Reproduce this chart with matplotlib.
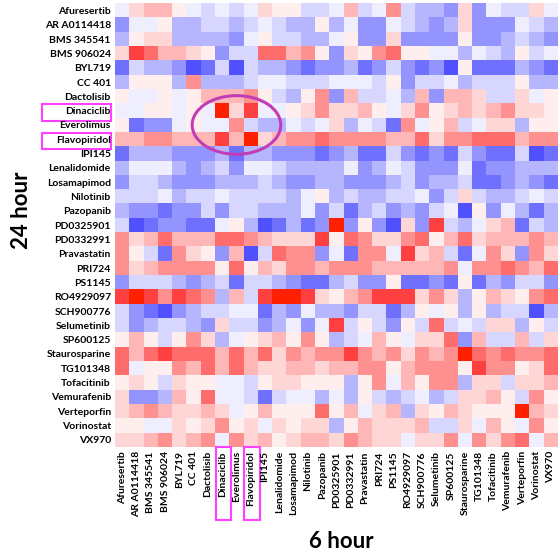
import matplotlib
matplotlib.use('Agg')
import matplotlib.pyplot as plt
import numpy as np
from matplotlib.colors import ListedColormap, BoundaryNorm
from matplotlib.patches import Rectangle, Ellipse
import matplotlib.transforms as mtrans

drugs = ["Afuresertib", "AR A0114418", "BMS 345541", "BMS 906024", "BYL719", "CC 401",
         "Dactolisib", "Dinaciclib", "Everolimus", "Flavopiridol", "IPI145", "Lenalidomide",
         "Losamapimod", "Nilotinib", "Pazopanib", "PD0325901", "PD0332991", "Pravastatin",
         "PRI724", "PS1145", "RO4929097", "SCH900776", "Selumetinib", "SP600125",
         "Staurosparine", "TG101348", "Tofacitinib", "Vemurafenib", "Verteporfin",
         "Vorinostat", "VX970"]
row_labels = drugs          # 24 hour
col_labels = drugs          # 6 hour
highlight = ["Dinaciclib", "Flavopiridol"]

# correlation level per cell (-7 strongly blue ... +7 strongly red)
levels = [
    [-1, 2, 3, 3, 1, -1, -2, -1, -2, -1, 2, 1, 1, -2, -2, -1, 3, -2, -1, 4, -2, -3, -3, -4, 2, -4, -1, -2, -2, 2, -1],
    [-4, -1, -1, 1, -3, -3, -2, -2, -3, -2, -1, -2, -3, -3, 1, -3, -1, -4, -4, -1, -2, -3, -4, -3, 2, -4, -4, -4, -1, -2, -3],
    [-3, 1, 2, 2, -3, -3, -3, -3, -4, -1, 1, -2, -2, -3, -3, -1, 1, -4, -4, 2, -4, -4, -4, -4, 1, -4, -4, -3, -2, -3, -4],
    [2, 6, 5, 3, 3, 2, 1, -4, -2, -2, 5, 5, 3, 4, 1, -4, 2, 1, 4, 5, 1, 1, -1, -1, -3, -1, -2, -3, 1, -2, -1],
    [-5, -2, -3, -3, -4, -6, -5, -2, -6, -2, -3, -3, -4, -5, -4, -4, -3, -5, -4, -2, -4, -5, -4, -6, 1, -5, -5, -5, -3, -4, -5],
    [-3, 1, 1, 1, -3, 4, -3, -3, -3, -2, -1, -1, -2, -2, -2, -1, -1, -1, -2, 1, -4, -2, -2, -1, -3, -2, -2, -2, 1, -3, -3],
    [1, -1, -1, 1, -1, 1, 3, 3, 3, 4, 1, -2, -3, 1, 4, -4, 3, -2, -2, -1, -3, 3, -4, 3, 3, 2, -2, -2, 2, -1, 1],
    [-1, -1, 1, 1, -1, 1, -1, 7, 2, 6, -1, -1, 1, 2, 4, 2, 2, 3, 1, -1, 2, 4, 1, 2, 3, 2, 3, 4, 2, 2, 1],
    [1, -5, -4, -4, -1, 1, -1, -1, 4, -2, -3, -3, -1, -2, -1, 2, -3, -1, -2, -5, 4, -1, 1, 3, -2, -1, 2, 2, -3, 1, 1],
    [3, 3, 4, 4, 3, 3, 3, 6, 3, 7, 2, 3, 4, 4, 5, 4, 4, 4, 4, 3, 3, 5, 2, 4, 4, 5, 5, 5, 3, 4, 4],
    [-5, -3, -3, -3, -4, -4, -4, -3, -5, -3, -3, -4, -4, -4, -5, -4, -3, -5, -5, -2, -4, -5, -4, -5, -2, -4, -5, -5, -2, -6, -5],
    [-3, -1, -1, -1, -3, -4, -3, -2, -4, -1, -1, -2, -3, -3, -3, -3, -1, -4, -3, -1, -2, -4, -4, -4, -1, -5, -4, -4, -3, -3, -3],
    [-4, -2, -2, -3, -4, -4, -4, -3, -3, -3, -2, -3, -4, -4, -3, -3, -4, -4, -4, -3, -2, -4, -3, -3, -2, -5, -5, -4, -3, -4, -5],
    [-2, -2, -2, -1, -3, -2, -2, -1, -2, -2, -2, -2, -3, -1, 1, -3, -2, -3, -3, -2, -2, -1, -4, -2, 2, -2, -3, -3, -2, -1, -2],
    [-3, -4, -4, -5, -4, -4, -2, -4, -2, -2, -3, -3, -3, -1, -4, -2, -5, -3, -2, -4, -3, -4, -2, -1, -6, 1, -4, -1, -3, -5, -3],
    [-2, -6, -5, -4, -4, -5, -5, -1, 1, -3, -6, -5, -3, -5, -4, 7, -4, 1, -4, -6, 2, -4, 6, -2, -3, -1, 2, 3, -5, -2, -3],
    [4, 2, 3, 5, 3, 3, 3, 5, 5, 4, 3, 2, 2, 2, 6, 1, 5, 4, 2, 2, 4, 5, 1, 3, 5, 2, 3, 3, 3, 4, 3],
    [4, 1, -2, -5, 4, 2, 1, -4, 3, -6, -2, 5, 4, 4, -4, -1, -5, 4, 4, -1, 6, 2, 3, -2, -5, -1, 4, 2, -4, 4, 2],
    [4, 2, 3, 4, 4, 4, 4, 1, 5, 1, 3, 2, 4, 4, 3, 4, 4, 4, 3, 3, 3, 3, 3, 4, -1, 4, 4, 5, 4, 3, 5],
    [-4, -2, -2, -2, -3, -4, -3, -2, -5, -2, -2, -3, -4, -5, -5, -3, -2, -4, -4, 1, -5, -5, -4, -5, 1, -5, -3, -4, -2, -2, -4],
    [6, 7, 6, 4, 6, 5, 4, -3, 3, -2, 6, 7, 7, 6, 2, 1, 3, 4, 6, 6, 6, 2, 4, 2, -3, 1, 3, 2, 1, 4, 5],
    [-2, -4, -5, -6, -4, -3, -2, -2, -1, -1, -5, -3, -4, -1, -3, -3, -4, -2, -2, -5, -3, 1, -1, 1, -3, 1, -3, -2, -2, -6, -3],
    [-2, -4, -3, -2, -2, -3, -4, 2, -2, -2, -4, -3, -1, -4, -1, 6, -2, 1, -2, -4, 1, -2, 5, -2, -1, -2, 2, 2, -3, 1, -2],
    [1, 3, 1, -2, 1, 4, 2, -3, -1, 1, 2, 3, 1, 4, 1, -3, -2, -1, 3, 1, -1, 2, 2, 5, -4, 3, -2, -2, 3, -2, 2],
    [5, 3, 5, 6, 5, 5, 5, 3, 5, 3, 5, 2, 4, 3, 4, 4, 6, 4, 3, 4, 2, 4, 3, 4, 7, 5, 4, 5, 4, 4, 5],
    [5, -1, 1, 1, 4, 3, 5, 3, 5, 3, 2, 2, 3, 3, 2, 3, 3, 4, 4, 1, 3, 4, 4, 4, 1, 6, 4, 4, 1, 2, 5],
    [1, 2, 1, -2, 2, 1, 1, -1, -1, -2, 1, 2, 2, 1, 1, 1, -3, 1, 4, -1, 3, 1, 4, 4, -3, 2, 2, -2, 2, 2, 3],
    [2, -4, -4, -3, 3, 1, 5, -1, -1, -2, -5, -2, -1, -1, -3, -1, -3, 1, -2, -3, -2, -1, -3, -2, 2, 2, 3, 1, -2, 4, 1],
    [2, 3, 4, 3, 2, 2, 3, 2, -1, 1, 3, 1, 1, 1, 5, 1, 3, -1, 2, 3, -3, 2, 1, 3, 2, 1, 1, 1, 7, 3, 2],
    [1, 1, -1, -1, 2, 1, 2, 4, 1, 2, -1, 2, 1, 2, 2, -3, 1, 3, 2, 2, 2, 3, -2, -2, 2, -1, 3, 1, -1, 4, 1],
    [2, 2, 3, 4, 2, 3, 4, -1, 4, 2, 3, 1, 2, 3, 3, 2, 4, 3, 2, 2, -1, 2, 2, 4, -1, 4, 2, 4, 5, -1, 3],
]

colors = ['#3A3AFF', '#5050FF', '#7070FF', '#9494FF', '#B6B6FF', '#D6D6FF', '#EEEEFF',
          '#FFFFFF',
          '#FFEEEE', '#FFD6D6', '#FFB6B6', '#FF9090', '#FF6C6C', '#FF4040', '#FF2000']

plt.rcParams['font.family'] = ['Lato', 'DejaVu Sans']

W, H = 560, 554
fig = plt.figure(figsize=(W / 100, H / 100), dpi=100)
ax = fig.add_axes([115 / W, 1 - 447 / H, 443 / W, 443.7 / H])

data = np.array(levels)
cmap = ListedColormap(colors)
norm = BoundaryNorm(np.arange(-7.5, 8.5, 1), cmap.N)
ax.imshow(data, cmap=cmap, norm=norm, aspect='auto', interpolation='nearest')

ax.set_xticks(range(len(col_labels)))
ax.set_xticklabels(col_labels, rotation=90, fontsize=7.5, fontweight='bold')
ax.set_yticks(range(len(row_labels)))
ax.set_yticklabels(row_labels, fontsize=7.5, fontweight='bold')
ax.tick_params(length=0, pad=3)
for s in ax.spines.values():
    s.set_visible(False)

box_col = '#FF40FF'
tr_rows = mtrans.blended_transform_factory(ax.transAxes, ax.transData)
tr_cols = mtrans.blended_transform_factory(ax.transData, ax.transAxes)
for name in highlight:
    r = row_labels.index(name)
    ax.add_patch(Rectangle((-0.165, r - 0.45), 0.156, 1.15, transform=tr_rows,
                           fill=False, edgecolor=box_col, lw=1.5, clip_on=False))
    c = col_labels.index(name)
    ax.add_patch(Rectangle((c - 0.45, -0.165), 1.1, 0.165, transform=tr_cols,
                           fill=False, edgecolor=box_col, lw=1.5, clip_on=False))

ri = [row_labels.index(n) for n in highlight]
ci = [col_labels.index(n) for n in highlight]
ax.add_patch(Ellipse((np.mean(ci), np.mean(ri)), 6.2, 4.1, fill=False,
                     edgecolor='#C23DB5', lw=2.2, clip_on=False))

fig.text(21 / W, 1 - 210 / H, '24 hour', rotation=90, fontsize=16, fontweight='bold',
         ha='center', va='center')
fig.text(341 / W, 1 - 548 / H, '6 hour', fontsize=16, fontweight='bold',
         ha='center', va='baseline')

fig.savefig('out.png', dpi=100)
